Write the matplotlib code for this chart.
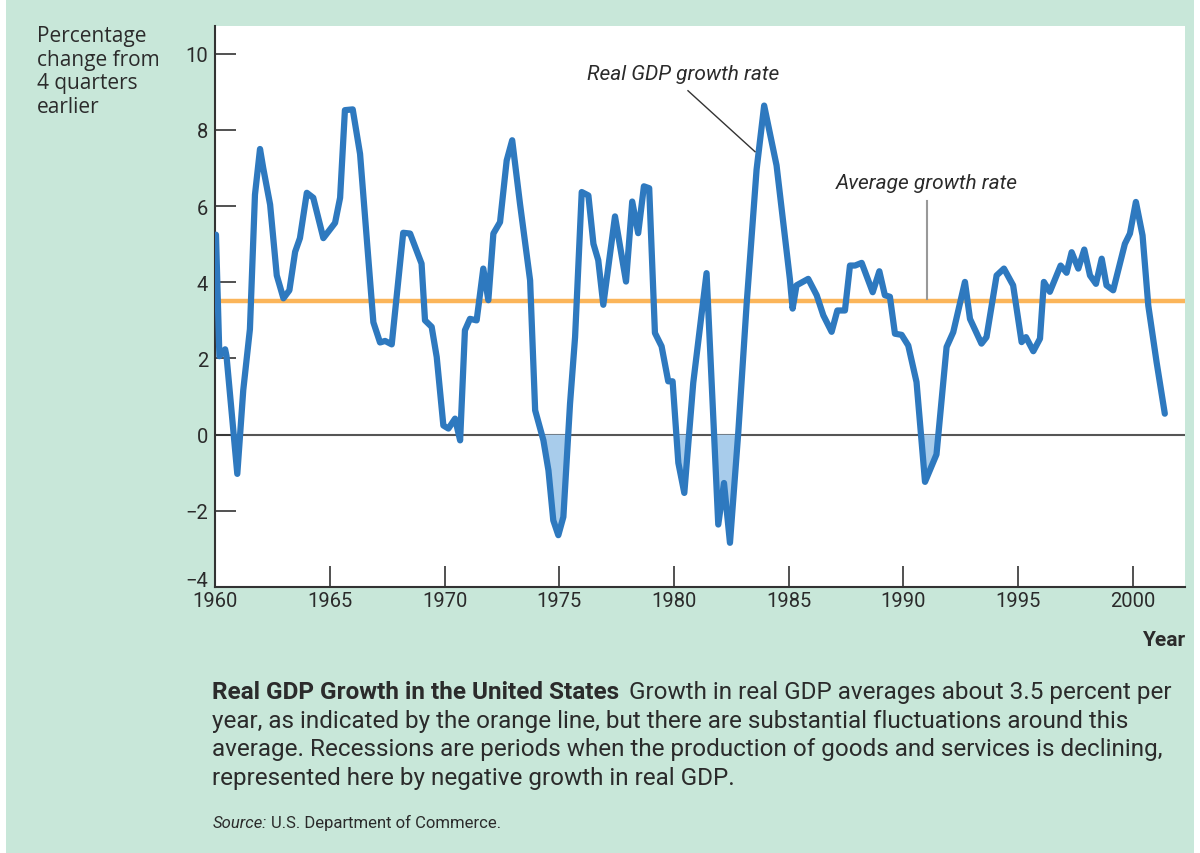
import matplotlib
matplotlib.use("Agg")

import matplotlib.pyplot as plt
from matplotlib.patches import Rectangle
from matplotlib.transforms import ScaledTranslation
import numpy as np


# values (year, % change from 4 quarters earlier)
years = [
    1960.04, 1960.19, 1960.44, 1960.50, 1960.97, 1961.23, 1961.52, 1961.74, 1961.96, 1962.10,
    1962.40, 1962.69, 1962.98, 1963.24, 1963.49, 1963.70, 1964.00, 1964.28, 1964.72, 1965.23,
    1965.45, 1965.66, 1966.00, 1966.32, 1966.90, 1967.19, 1967.41, 1967.70, 1968.20, 1968.50,
    1969.00, 1969.15, 1969.44, 1969.66, 1969.95, 1970.17, 1970.46, 1970.56, 1970.68, 1970.89,
    1971.11, 1971.40, 1971.69, 1971.91, 1972.13, 1972.42, 1972.71, 1972.95, 1973.29, 1973.73,
    1973.95, 1974.31, 1974.53, 1974.74, 1974.96, 1975.18, 1975.47, 1975.69, 1975.98, 1976.27,
    1976.49, 1976.70, 1976.92, 1977.43, 1977.91, 1978.18, 1978.44, 1978.69, 1978.92, 1979.17,
    1979.46, 1979.75, 1979.94, 1980.19, 1980.45, 1980.84, 1981.42, 1981.93, 1982.18, 1982.44,
    1982.80, 1983.17, 1983.60, 1983.93, 1984.47, 1985.05, 1985.17, 1985.34, 1985.85, 1986.22,
    1986.51, 1986.87, 1987.12, 1987.45, 1987.67, 1987.89, 1988.18, 1988.66, 1988.95, 1989.19,
    1989.41, 1989.63, 1989.92, 1990.21, 1990.57, 1990.94, 1991.44, 1991.88, 1992.17, 1992.68,
    1992.90, 1993.40, 1993.62, 1994.06, 1994.38, 1994.78, 1995.15, 1995.34, 1995.66, 1995.95,
    1996.12, 1996.38, 1996.85, 1997.11, 1997.33, 1997.62, 1997.88, 1998.13, 1998.39, 1998.64,
    1998.85, 1999.14, 1999.65, 1999.87, 2000.13, 2000.42, 2000.67, 2001.03, 2001.39,
]
growth = [
    5.25, 2.06, 2.24, 2.06, -1.03, 1.17, 2.77, 6.30, 7.50, 7.00,
    6.04, 4.18, 3.58, 3.79, 4.80, 5.16, 6.35, 6.22, 5.16, 5.56,
    6.22, 8.52, 8.54, 7.37, 2.95, 2.42, 2.46, 2.37, 5.30, 5.28,
    4.49, 3.00, 2.83, 2.04, 0.24, 0.16, 0.42, 0.16, -0.15, 2.74,
    3.04, 3.00, 4.36, 3.53, 5.28, 5.58, 7.20, 7.73, 6.06, 4.05,
    0.64, -0.15, -0.94, -2.25, -2.64, -2.16, 0.81, 2.56, 6.37, 6.28,
    5.01, 4.58, 3.41, 5.73, 4.02, 6.12, 5.29, 6.52, 6.47, 2.67,
    2.32, 1.40, 1.40, -0.74, -1.53, 1.36, 4.24, -2.36, -1.27, -2.84,
    0.04, 3.46, 6.96, 8.64, 7.07, 4.09, 3.31, 3.92, 4.09, 3.66,
    3.13, 2.70, 3.26, 3.26, 4.44, 4.44, 4.51, 3.74, 4.29, 3.66,
    3.62, 2.65, 2.62, 2.34, 1.38, -1.24, -0.52, 2.30, 2.69, 4.01,
    3.04, 2.39, 2.56, 4.18, 4.36, 3.92, 2.43, 2.56, 2.19, 2.52,
    4.01, 3.75, 4.44, 4.25, 4.79, 4.36, 4.86, 4.18, 3.96, 4.62,
    3.92, 3.79, 5.01, 5.28, 6.11, 5.23, 3.39, 1.91, 0.55,
]
average_rate = 3.5

year_ticks = [1960, 1965, 1970, 1975, 1980, 1985, 1990, 1995, 2000]
value_ticks = [-4, -2, 0, 2, 4, 6, 8, 10]

BG = "#c8e7d9"
BLUE = "#2e79bf"
FILL = "#a8cceb"
ORANGE = "#fbb55a"
TXT = "#2b2b2b"
NARROW = "Roboto"

fig = plt.figure(figsize=(12, 8.54), dpi=100, facecolor="white")
fig.patches.append(Rectangle((0.005, 0), 0.99, 1, transform=fig.transFigure,
                             facecolor=BG, edgecolor="none", zorder=-10))

ax = fig.add_axes([0.1792, 0.3115, 0.8083, 0.6569])
ax.set_facecolor("white")

x = np.array(years)
y = np.array(growth)

ax.fill_between(x, y, 0, where=y < 0, interpolate=True, color=FILL, lw=0, zorder=2)
ax.axhline(0, color="#555555", lw=1.5, zorder=1)
ax.axhline(average_rate, color=ORANGE, lw=3.2, zorder=1)
ax.plot(x, y, color=BLUE, lw=4.5, solid_joinstyle="round", solid_capstyle="round", zorder=3)

ax.set_xlim(1960, 2002.27)
ax.set_ylim(-4, 10.73)
ax.set_xticks(year_ticks)
ax.set_yticks(value_ticks)
ax.set_yticklabels([str(v).replace("-", "\u2212") for v in value_ticks])

for side in ["top", "right"]:
    ax.spines[side].set_visible(False)
for side in ["left", "bottom"]:
    ax.spines[side].set_color("#333333")
    ax.spines[side].set_linewidth(1.5)

ax.tick_params(axis="both", direction="in", length=15, width=1.2, color="#333333",
               labelsize=14.5, labelcolor=TXT, pad=5)
ax.tick_params(axis="x", pad=3)
for lab in ax.get_xticklabels() + ax.get_yticklabels():
    lab.set_family(NARROW)
# the -4 label sits a bit above the axis line in the original
low = ax.get_yticklabels()[0]
low.set_transform(low.get_transform() + ScaledTranslation(0, 6 / 72, fig.dpi_scale_trans))

# annotations
ax.text(1980.39, 9.47, "Real GDP growth rate", fontsize=15, style="italic",
        color=TXT, ha="center", va="center", family=NARROW)
ax.plot([1980.61, 1983.53], [9.03, 7.43], color="#333333", lw=1.0, zorder=4)
ax.text(1991.02, 6.61, "Average growth rate", fontsize=15, style="italic",
        color=TXT, ha="center", va="center", family=NARROW)
ax.plot([1991.02, 1991.02], [3.57, 6.14], color="#999999", lw=1.5, zorder=1)

fig.text(0.031, 0.969, "Percentage\nchange from\n4 quarters\nearlier", fontsize=15,
         color=TXT, ha="left", va="top", linespacing=1.15, family="Open Sans",
         fontweight="medium")
fig.text(0.9875, 0.25, "Year", fontsize=15, fontweight="bold", color=TXT,
         ha="right", va="center", family=NARROW)

# caption
cap_x = 0.177
cap_size = 17.5
bold = fig.text(cap_x, 0.189, "Real GDP Growth in the United States", fontsize=cap_size,
                fontweight="bold", color=TXT, family=NARROW, va="center")
fig.canvas.draw()
bb = bold.get_window_extent(fig.canvas.get_renderer())
x_after = (bb.x1 + 9) / fig.bbox.width
fig.text(x_after, 0.189, "Growth in real GDP averages about 3.5 percent per",
         fontsize=cap_size, color=TXT, family=NARROW, va="center")
rest = [
    "year, as indicated by the orange line, but there are substantial fluctuations around this",
    "average. Recessions are periods when the production of goods and services is declining,",
    "represented here by negative growth in real GDP.",
]
for i, line in enumerate(rest):
    fig.text(cap_x, 0.189 - 0.0335 * (i + 1), line, fontsize=cap_size, color=TXT,
             family=NARROW, va="center")

src = fig.text(cap_x, 0.036, "Source:", fontsize=12, style="italic", color=TXT,
               family=NARROW, va="center")
fig.canvas.draw()
bb = src.get_window_extent(fig.canvas.get_renderer())
fig.text((bb.x1 + 4) / fig.bbox.width, 0.036, "U.S. Department of Commerce.",
         fontsize=12, color=TXT, family=NARROW, va="center")

fig.savefig("out.png", dpi=100, facecolor=fig.get_facecolor())
